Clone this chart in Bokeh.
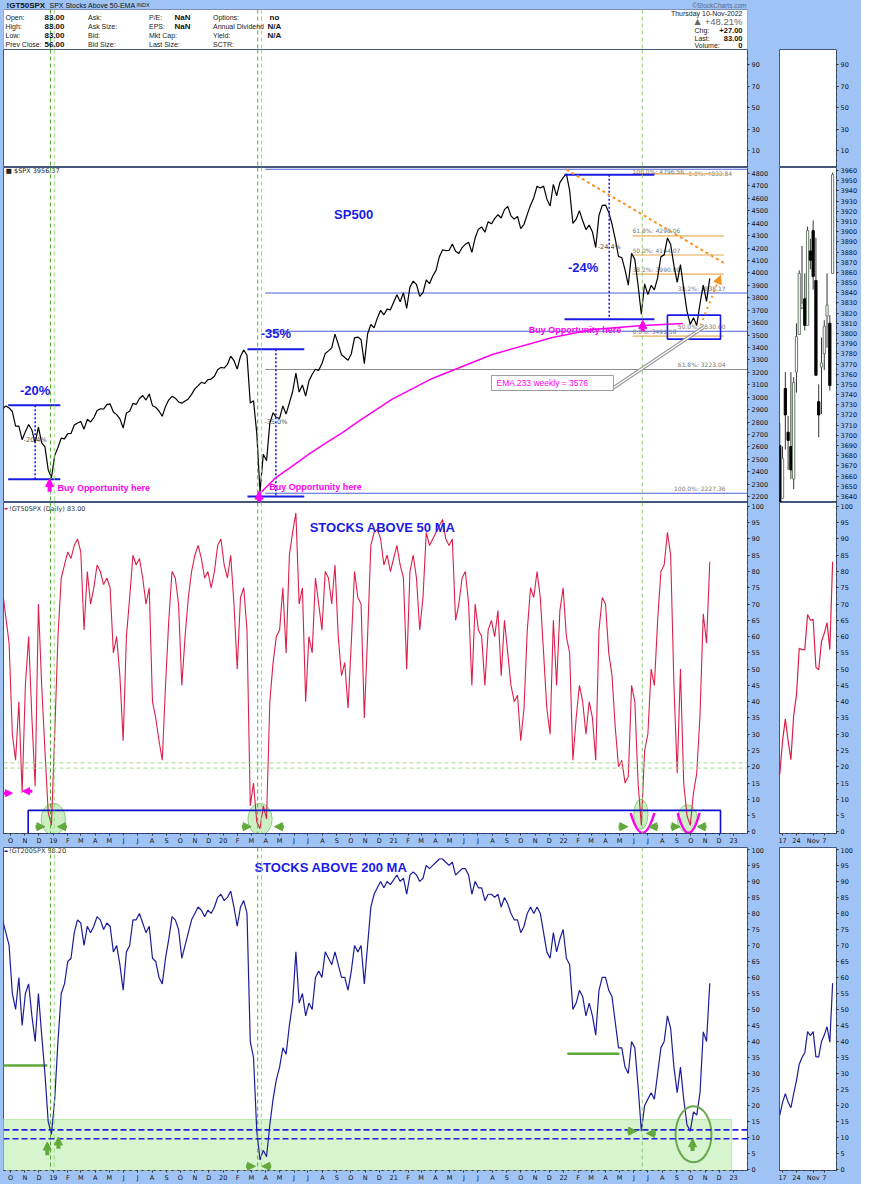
import pandas as pd
from bokeh.plotting import figure
from bokeh.layouts import column, row
from bokeh.models import Range1d, FixedTicker, Span, Arrow, NormalHead, ColumnDataSource
from bokeh.core.properties import value
from bokeh.embed import file_html
from bokeh.resources import INLINE

# ------------------------------------------------------------------ data
week_starts = ["2018-09-14", "2019-01-04", "2020-01-03", "2021-01-08", "2022-01-07"]

spx_2018 = [2905, 2930, 2914, 2885, 2767, 2768, 2658, 2723, 2781, 2736, 2633, 2760, 2633, 2600, 2417, 2351]
spx_2019 = [2532, 2596, 2671, 2665, 2707, 2708, 2776, 2793, 2804, 2743, 2822, 2801, 2834, 2893, 2907, 2905,
            2940, 2946, 2881, 2860, 2826, 2752, 2873, 2887, 2950, 2942, 2990, 3014, 2977, 3026, 2932, 2919,
            2889, 2847, 2926, 2979, 3007, 2992, 2962, 2952, 2970, 2986, 3023, 3067, 3093, 3120, 3110, 3141,
            3146, 3169, 3221, 3240]
spx_2020 = [3235, 3265, 3330, 3295, 3226, 3328, 3380, 3338, 2954, 2972, 2711, 2237, 2541, 2489, 2790, 2875,
            2837, 2830, 2930, 2864, 2955, 3044, 3194, 3041, 3098, 3009, 3130, 3185, 3225, 3216, 3271, 3351,
            3373, 3397, 3508, 3427, 3341, 3319, 3298, 3348, 3477, 3484, 3465, 3270, 3509, 3585, 3558, 3638,
            3699, 3663, 3709, 3703]
spx_2021 = [3825, 3768, 3841, 3714, 3887, 3934, 3907, 3811, 3842, 3943, 3913, 3975, 4020, 4129, 4185, 4180,
            4181, 4233, 4174, 4156, 4204, 4230, 4247, 4166, 4281, 4352, 4370, 4327, 4412, 4395, 4437, 4468,
            4442, 4509, 4535, 4459, 4433, 4455, 4357, 4391, 4471, 4545, 4605, 4697, 4683, 4698, 4595, 4538,
            4712, 4620, 4726, 4766]
spx_2022 = [4796, 4663, 4398, 4432, 4501, 4419, 4349, 4385, 4329, 4204, 4463, 4543, 4546, 4488, 4393, 4272,
            4132, 4123, 4024, 3901, 4158, 4109, 3901, 3667, 3912, 3825, 3899, 3863, 3962, 4130, 4145, 4280,
            4228, 4058, 3924, 4067, 3873, 3693, 3586, 3640, 3577, 3753, 3901, 3771, 3956]

gt50_2018 = [74, 66, 58, 30, 22, 40, 12, 45, 60, 35, 14, 70, 45, 25, 6, 2]
gt50_2019 = [30, 60, 78, 82, 86, 84, 88, 90, 86, 62, 80, 70, 75, 82, 80, 76, 78, 75, 55, 60,
             48, 28, 60, 72, 85, 82, 84, 78, 70, 75, 40, 35, 28, 22, 45, 65, 80, 78, 70, 45,
             60, 72, 80, 85, 88, 84, 78, 80, 75, 80, 88, 90]
gt50_2020 = [82, 78, 85, 70, 50, 72, 75, 62, 8, 15, 3, 1, 8, 4, 40, 52, 60, 62, 75, 55,
             85, 92, 98, 70, 75, 40, 60, 55, 78, 70, 62, 80, 78, 70, 82, 60, 48, 52, 38, 58,
             80, 72, 70, 35, 60, 88, 92, 93, 90, 82, 85, 80]
gt50_2021 = [88, 82, 78, 50, 80, 85, 78, 62, 72, 92, 88, 90, 92, 94, 96, 90, 88, 90, 65, 70,
             78, 80, 70, 45, 70, 62, 60, 45, 62, 65, 60, 68, 48, 65, 55, 45, 40, 42, 28, 38,
             62, 75, 72, 80, 72, 55, 38, 30, 65, 45, 68, 75]
gt50_2022 = [60, 55, 22, 35, 45, 40, 30, 40, 35, 22, 62, 72, 70, 55, 48, 32, 20, 22, 15, 17,
             45, 40, 15, 2, 25, 30, 50, 45, 65, 80, 82, 92, 85, 45, 18, 50, 15, 5, 2, 12,
             18, 36, 67, 58, 83]

gt200_2018 = [78, 74, 70, 55, 50, 60, 45, 55, 58, 48, 40, 55, 42, 30, 15, 11]
gt200_2019 = [22, 40, 55, 58, 65, 66, 74, 78, 77, 70, 76, 74, 76, 79, 78, 75, 77, 76, 68, 70,
              64, 56, 68, 70, 78, 78, 80, 77, 74, 76, 66, 65, 60, 58, 66, 72, 79, 78, 75, 66,
              70, 74, 78, 80, 82, 81, 79, 81, 80, 82, 85, 86]
gt200_2020 = [84, 85, 87, 82, 76, 82, 84, 80, 40, 35, 12, 3, 6, 4, 14, 22, 28, 32, 38, 36,
              45, 52, 68, 52, 55, 48, 52, 50, 60, 62, 60, 68, 66, 64, 68, 64, 60, 60, 56, 62,
              70, 68, 70, 58, 70, 82, 86, 88, 90, 88, 90, 89]
gt200_2021 = [92, 90, 91, 86, 92, 93, 92, 90, 91, 95, 94, 95, 96, 97, 97, 96, 95, 96, 92, 93,
              94, 94, 92, 86, 90, 88, 88, 84, 86, 86, 85, 86, 82, 85, 83, 80, 78, 78, 74, 76,
              80, 82, 80, 82, 80, 74, 68, 66, 74, 68, 72, 75]
gt200_2022 = [66, 64, 50, 52, 56, 54, 48, 52, 48, 42, 56, 60, 60, 56, 54, 46, 38, 38, 32, 30,
              40, 38, 26, 12, 20, 22, 24, 22, 30, 38, 40, 48, 44, 32, 24, 32, 22, 14, 12, 18,
              17, 24, 43, 40, 58.2]

small_days = ["2022-10-14", "2022-10-17", "2022-10-18", "2022-10-19", "2022-10-20", "2022-10-21",
              "2022-10-24", "2022-10-25", "2022-10-26", "2022-10-27", "2022-10-28", "2022-10-31",
              "2022-11-01", "2022-11-02", "2022-11-03", "2022-11-04", "2022-11-07", "2022-11-08",
              "2022-11-09", "2022-11-10"]
small_open = [3690, 3638, 3746, 3703, 3689, 3657, 3762, 3799, 3825, 3834, 3808, 3881, 3901, 3852, 3733,
              3767, 3780, 3817, 3810, 3859]
small_high = [3712, 3689, 3762, 3719, 3762, 3757, 3810, 3862, 3886, 3859, 3905, 3893, 3911, 3894, 3750,
              3796, 3813, 3859, 3818, 3958]
small_low = [3584, 3638, 3686, 3666, 3657, 3647, 3742, 3799, 3824, 3803, 3808, 3863, 3843, 3759, 3698,
             3721, 3764, 3786, 3744, 3859]
small_close = [3583, 3677, 3720, 3695, 3666, 3752, 3797, 3859, 3830, 3808, 3901, 3872, 3856, 3759, 3720,
               3771, 3807, 3828, 3749, 3956]
small_gt50 = [17.7, 28, 34.7, 28, 22.2, 35.8, 42, 56.4, 56, 56, 66.8, 65, 65.3, 50.6, 49.8, 58.5, 61,
              64.3, 56, 83]
small_gt200 = [17, 21, 23.7, 21, 19.3, 23.7, 27.8, 32.9, 35, 36.5, 43.1, 41.8, 43.1, 35.2, 35.2, 40, 42,
               44.6, 39.8, 58.2]
small_tick_labels = {"2022-10-17": "17", "2022-10-24": "24", "2022-11-01": "Nov", "2022-11-07": "7"}

fib_big_levels = [4833.84, 3838.17, 3530.60, 3223.04, 2227.36]
fib_big_labels = ["0.0%: 4833.84", "38.2%: 3838.17", "50.0%: 3530.60", "61.8%: 3223.04", "100.0%: 2227.36"]
fib_small_levels = [4796.56, 4298.06, 4144.07, 3990.08, 3491.58]
fib_small_labels = ["100.0%: 4796.56", "61.8%: 4298.06", "50.0%: 4144.07", "38.2%: 3990.08", "0.0%: 3491.58"]

ema_dates = ["2020-03-18", "2020-04-23", "2020-05-29", "2020-07-03", "2020-08-08", "2020-09-13",
             "2020-10-19", "2020-12-29", "2021-03-25", "2021-08-01", "2021-12-08", "2022-03-04",
             "2022-06-20", "2022-09-14"]
ema_values = [2220, 2354, 2448, 2542, 2630, 2716, 2810, 2984, 3151, 3344, 3481, 3545, 3577, 3593]

signal_dates = ["2018-12-26", "2019-01-03", "2020-03-15", "2020-03-23", "2022-06-19"]

# ------------------------------------------------------------------ helpers
ORIGIN = pd.Timestamp("2019-01-01")


def day(d):
    return int((pd.Timestamp(d) - ORIGIN).days)


def series(parts):
    xs, ys = [], []
    for start, vals in zip(week_starts, parts):
        ds = pd.date_range(start, periods=len(vals), freq="7D")
        xs += [int((d - ORIGIN).days) for d in ds]
        ys += list(vals)
    return xs, ys


BG = "#9fc3f5"
OUT = "#44577d"
XL, XR = -107, 1491
MW, SW = 777, 84
FW = 744
HH = 49
FONT = "Liberation Sans"
AXF = "DejaVu Sans"
GREEN = "#62a83c"
MAG = "#ff00ee"
BLUE = "#1a1ae6"
ORANGE = "#f39222"
sig_colors = ["#4fae2c", "#9ad68a", "#4fae2c", "#9ad68a", "#8ccc70"]

months = pd.date_range("2018-10-01", "2023-01-01", freq="MS")
month_ticks = [day(m) for m in months]
month_labels = {day(m): (m.strftime("%y") if m.month == 1 else m.strftime("%b")[0]) for m in months}


def txt(p, x, y, t, size="7px", color="#222", align="left", baseline="middle", style="normal", font=FONT):
    p.text(x=[x], y=[y], text=[t], text_font=value(font), text_font_size=size, text_color=color,
           text_align=align, text_baseline=baseline, text_font_style=style)


def style_axis(ax, ticks, standoff):
    ax.ticker = FixedTicker(ticks=ticks)
    ax.major_label_text_font = AXF
    ax.major_label_text_font_size = "6.5px"
    ax.major_label_text_color = "#111"
    ax.axis_line_color = "#333"
    ax.axis_line_dash = "dotted"
    ax.major_tick_line_color = "#333"
    ax.major_tick_in = 0
    ax.major_tick_out = 2
    ax.minor_tick_line_color = None
    ax.major_label_standoff = standoff


def base(p):
    p.border_fill_color = BG
    p.background_fill_color = "white"
    p.outline_line_color = OUT
    p.outline_line_width = 1
    p.grid.visible = False


def mainfig(h, y0, y1, yticks, bottom=0):
    p = figure(width=MW, height=h, x_range=Range1d(XL, XR), y_range=Range1d(y0, y1),
               output_backend="svg", toolbar_location=None,
               x_axis_location=("below" if bottom else None), y_axis_location="right",
               min_border=0, min_border_left=3, min_border_right=30, min_border_top=0,
               min_border_bottom=bottom)
    base(p)
    style_axis(p.yaxis[0], yticks, 2)
    if bottom:
        style_axis(p.xaxis[0], month_ticks, 1)
        p.xaxis[0].major_label_overrides = month_labels
    for d, c in zip(signal_dates, sig_colors):
        p.add_layout(Span(location=day(d), dimension="height", line_color=c, line_dash="4 3",
                          line_width=1))
    return p


small_idx = list(range(len(small_days)))
small_ticks = [small_days.index(k) for k in small_tick_labels]
small_lab = {small_days.index(k): v for k, v in small_tick_labels.items()}


def smallfig(h, y0, y1, yticks, bottom=0):
    p = figure(width=SW, height=h, x_range=Range1d(-0.1, 20.4), y_range=Range1d(y0, y1),
               output_backend="svg", toolbar_location=None,
               x_axis_location=("below" if bottom else None), y_axis_location="right",
               min_border=0, min_border_left=2, min_border_right=25, min_border_top=0,
               min_border_bottom=bottom)
    base(p)
    style_axis(p.yaxis[0], yticks, 2)
    if bottom:
        style_axis(p.xaxis[0], small_ticks, 1)
        p.xaxis[0].major_label_overrides = small_lab
    return p


def arrows(p, x0, y0, x1, y1, color, width=4, size=8, dash="solid"):
    src = ColumnDataSource(dict(x0=x0, y0=y0, x1=x1, y1=y1))
    p.add_layout(Arrow(end=NormalHead(size=size, fill_color=color, line_color=color),
                       x_start="x0", y_start="y0", x_end="x1", y_end="y1", source=src,
                       line_color=color, line_width=width, line_dash=dash))


def hx(d):
    return (day(d) - XL) * FW / (XR - XL)


# ------------------------------------------------------------------ header
hdr = figure(width=MW, height=HH, x_range=Range1d(0, FW), y_range=Range1d(HH, 0),
             output_backend="svg", toolbar_location=None, x_axis_location=None, y_axis_location=None,
             min_border=0, min_border_left=3, min_border_right=30)
hdr.background_fill_color = BG
hdr.border_fill_color = BG
hdr.outline_line_color = None
hdr.grid.visible = False
hdr.quad(left=[0], right=[FW], top=[9], bottom=[HH], fill_color="white", line_color="#7d8fb3")
hdr.segment(x0=[hx(d) for d in signal_dates], y0=[9] * 5, x1=[hx(d) for d in signal_dates],
            y1=[HH] * 5, line_color=sig_colors, line_dash="4 3", line_width=1)
txt(hdr, 3, 4.5, "!GT50SPX", size="8px", color="#111", style="bold")
txt(hdr, 46, 4.5, "SPX Stocks Above 50-EMA", size="7px", color="#111")
txt(hdr, 133, 4.8, "INDX", size="5.5px", color="#222")
txt(hdr, 743, 4.5, "\u00a9StockCharts.com", size="6.5px", color="#5a6a88", align="right")

rows_y = [16.5, 25.5, 34.5, 43.5]
quote_cols_x = [2, 84.5, 145.5, 209.5]
quote_vals_x = [41, 0, 171, 264]
quote_labels = [["Open:", "High:", "Low:", "Prev Close:"],
                ["Ask:", "Ask Size:", "Bid:", "Bid Size:"],
                ["P/E:", "EPS:", "Mkt Cap:", "Last Size:"],
                ["Options:", "Annual Dividend", "Yield:", "SCTR:"]]
quote_values = [["83.00", "83.00", "83.00", "56.00"],
                ["", "", "", ""],
                ["NaN", "NaN", "", ""],
                ["no", "N/A", "N/A", ""]]
for cx, vx, labs, vals in zip(quote_cols_x, quote_vals_x, quote_labels, quote_values):
    for yy, lab, vv in zip(rows_y, labs, vals):
        txt(hdr, cx, yy, lab, size="7px", color="#222")
        if vv:
            txt(hdr, vx + (2 if vv == "no" else 0), yy, vv, size="8px", color="#111", style="bold")

right_y = [13.2, 21.4, 29.6, 37.6, 45.4]
txt(hdr, 739, right_y[0], "Thursday 10-Nov-2022", size="7px", color="#222", align="right")
txt(hdr, 739, right_y[1], "+48.21%", size="9.5px", color="#666", align="right")
txt(hdr, 691, right_y[1], "\u25b2", size="8px", color="#666", font="DejaVu Sans")
for yy, lab, vv in zip(right_y[2:], ["Chg:", "Last:", "Volume:"], ["+27.00", "83.00", "0"]):
    txt(hdr, 691, yy, lab, size="7px", color="#222")
    txt(hdr, 739, yy, vv, size="7.5px", color="#111", align="right", style="bold")

hdr2 = figure(width=SW, height=HH, x_range=Range1d(0, 1), y_range=Range1d(0, 1),
              output_backend="svg", toolbar_location=None, x_axis_location=None, y_axis_location=None,
              min_border=0)
hdr2.background_fill_color = BG
hdr2.border_fill_color = BG
hdr2.outline_line_color = None
hdr2.grid.visible = False
hdr2.scatter(x=[0.5], y=[0.5], size=0, alpha=0)

# ------------------------------------------------------------------ empty panel
e1 = mainfig(118, -5.8, 104, [10, 30, 50, 70, 90])
e1.scatter(x=[0], y=[50], size=0, alpha=0)
e2 = smallfig(118, -5.8, 104, [10, 30, 50, 70, 90])
e2.scatter(x=[0], y=[50], size=0, alpha=0)

# ------------------------------------------------------------------ SPX panel
s1 = mainfig(335, 2153, 4848, list(range(2200, 4801, 100)))
# big fibonacci retracement (2020 low -> 2022 high)
for lev, lab in zip(fib_big_levels, fib_big_labels):
    col = "#8a8a8a" if lab.startswith("61.8") else "#4d5fd6"
    s1.segment(x0=[455], y0=[lev], x1=[XR], y1=[lev], line_color=col, line_width=1)
    top = lev > 4800
    txt(s1, 1458 if top else 1444, lev - 8 if top else lev + 12, lab, size="6px", color="#777",
        align="right", baseline="top" if top else "bottom", font=AXF)
# small fibonacci retracement (2022)
for lev, lab in zip(fib_small_levels, fib_small_labels):
    s1.segment(x0=[1244], y0=[lev], x1=[1440], y1=[lev], line_color="#f1c489", line_width=1.6)
    top = lev > 4700
    txt(s1, 1244, lev + 20 if top else lev + 12, lab, size="6px", color="#777", align="left",
        baseline="middle" if top else "bottom", font=AXF)

spx_x, spx_y = series([spx_2018, spx_2019, spx_2020, spx_2021, spx_2022])
s1.line(spx_x, spx_y, line_color="black", line_width=1.2)

# drawdown brackets
for (xa, xb, xm, top, bot, big, small, ybig, ysmall) in [
        (-97, 15, -39, 2936, 2341, "-20%", "-20.4%", 3050, 2652),
        (417, 539, 478, 3386, 2201, "-35%", "-35.0%", 3510, 2797),
        (1098, 1291, 1194, 4790, 3628, "-24%", "-24.4%", 4044, 4205)]:
    s1.segment(x0=[xa, xa], y0=[top, bot], x1=[xb, xb], y1=[top, bot], line_color=BLUE, line_width=2)
    s1.segment(x0=[xm], y0=[top], x1=[xm], y1=[bot], line_color=BLUE, line_width=1.6, line_dash="2 2")
    txt(s1, xm - (56 if big == "-24%" else 0), ybig, big, size="13px", color=BLUE, align="center",
        style="bold")
    txt(s1, xm, ysmall, small, size="6.5px", color="#555", align="center", font=AXF)

# EMA 233 weekly curve
s1.line([day(d) for d in ema_dates], ema_values, line_color=MAG, line_width=1.5)
# downtrend and projection
s1.line([1102, 1442], [4832, 4076], line_color=ORANGE, line_width=2, line_dash="3 3")
arrows(s1, [1390], [3577], [1433], [3979], ORANGE, width=2, size=8, dash="dotted")
# box around October low
s1.quad(left=[1319], right=[1433], bottom=[3467], top=[3660], fill_color=None, line_color=BLUE,
        line_width=1.6)
# callout for EMA label
s1.line([1201, 1399], [3070, 3569], line_color="#9a9a9a", line_width=3.5)
s1.line([1201, 1399], [3070, 3569], line_color="white", line_width=1.2)
s1.quad(left=[941], right=[1203], bottom=[3054], top=[3175], fill_color="white", line_color="#9a9a9a",
        line_width=1)
txt(s1, 952, 3114, "EMA 233  weekly = 3576", size="8.5px", color=MAG)
# buy arrows and texts
arrows(s1, [-8, 442, 1266], [2240, 2160, 3530], [-8, 442, 1266], [2345, 2245, 3618], MAG, width=4,
       size=8)
txt(s1, 9, 2266, "Buy Opportunity here", size="9px", color=MAG, style="bold")
txt(s1, 464, 2274, "Buy Opportunity here", size="9px", color=MAG, style="bold")
txt(s1, 1021, 3541, "Buy Opportunity here", size="9px", color=MAG, style="bold")
txt(s1, 645, 4470, "SP500", size="13px", color=BLUE, align="center", style="bold")
txt(s1, -102, 4822, "\u25a0 $SPX 3956.37", size="6.5px", color="#222", font=AXF)

s2 = smallfig(335, 3634, 3963, list(range(3640, 3961, 10)))
up = [c >= o for o, c in zip(small_open, small_close)]
s2.segment(x0=small_idx, y0=small_low, x1=small_idx, y1=small_high, line_color="#333", line_width=1)
s2.vbar(x=small_idx, width=0.8, bottom=[min(o, c) for o, c in zip(small_open, small_close)],
        top=[max(o, c) for o, c in zip(small_open, small_close)],
        fill_color=["white" if u else "black" for u in up],
        line_color=["#6b7d6b" if u else "black" for u in up], line_width=1)

# ------------------------------------------------------------------ % above 50 EMA
f1 = mainfig(345, -0.5, 101.2, list(range(0, 101, 5)), bottom=14)
f1.add_layout(Span(location=21.2, dimension="width", line_color="#a6d494", line_dash="4 3", line_width=1))
f1.add_layout(Span(location=19.6, dimension="width", line_color="#a6d494", line_dash="4 3", line_width=1))
f1.ellipse(x=[0, 444, 1262, 1362], y=[3.9, 3.9, 5.4, 4.0], width=[52, 52, 30, 43],
           height=[9.8, 9.8, 9.2, 8.6], fill_color="#8ddc7c", fill_alpha=0.45, line_color="#8fd080")
g50_x, g50_y = series([gt50_2018, gt50_2019, gt50_2020, gt50_2021, gt50_2022])
f1.line(g50_x, g50_y, line_color="#dc1f4a", line_width=1.1)
f1.quad(left=[-54], right=[1433], bottom=[-0.7], top=[6.6], fill_color=None, line_color="#1010cc",
        line_width=1.6)
f1.quadratic(x0=[1240, 1341], y0=[5.8, 5.8], x1=[1291, 1388], y1=[5.8, 5.8], cx=[1265.5, 1364.5],
             cy=[-6.4, -6.4], line_color=MAG, line_width=2.5)
arrows(f1, [-38, 29, 405, 495, 1214, 1299, 1326, 1403], [1.6] * 8,
       [-18, 9, 425, 475, 1234, 1279, 1346, 1383], [1.6] * 8, GREEN, width=4, size=8)
arrows(f1, [-107, -45], [11.9, 12.5], [-88, -66], [11.9, 12.5], MAG, width=3, size=7)
f1.segment(x0=[-105], y0=[99.3], x1=[-98], y1=[99.3], line_color="#dc1f4a", line_width=1.5)
txt(f1, -95, 99.3, "!GT50SPX (Daily) 83.00", size="6.5px", color="#333", font=AXF)
txt(f1, 711, 93.6, "STOCKS ABOVE 50  MA", size="13px", color=BLUE, align="center", style="bold")

f2 = smallfig(345, -0.5, 101.2, list(range(0, 101, 5)), bottom=14)
f2.line(small_idx, small_gt50, line_color="#dc1f4a", line_width=1.2)

# ------------------------------------------------------------------ % above 200 EMA
t1 = mainfig(337, -0.3, 100.6, list(range(0, 101, 5)), bottom=13)
t1.quad(left=[XL - 20], right=[1457], bottom=[-2], top=[15.6], fill_color="#d6f5cf",
        line_color="#b9e6ad", line_width=1)
t1.add_layout(Span(location=12.4, dimension="width", line_color="#2121e0", line_dash="6 3", line_width=1.6))
t1.add_layout(Span(location=9.6, dimension="width", line_color="#2121e0", line_dash="6 3", line_width=1.6))
t1.segment(x0=[XL - 20, 1104], y0=[32.5, 36.2], x1=[-13, 1216], y1=[32.5, 36.2], line_color="#5fa83a",
           line_width=2.5)
g200_x, g200_y = series([gt200_2018, gt200_2019, gt200_2020, gt200_2021, gt200_2022])
t1.line(g200_x, g200_y, line_color="#1c1c99", line_width=1.2)
t1.ellipse(x=[1375], y=[11], width=[77], height=[17.5], fill_color=None, line_color="#6aa84f",
           line_width=2)
arrows(t1, [-13, 11, 1373], [4.5, 6.5, 5.8], [-13, 11, 1373], [8.6, 10.2, 9.6], GREEN, width=4, size=8)
arrows(t1, [414, 468, 1233, 1294], [1.0, 1.0, 12.0, 11.3], [434, 448, 1253, 1274], [1.0, 1.0, 12.0, 11.3],
       GREEN, width=4, size=8)
t1.segment(x0=[-105], y0=[99.4], x1=[-98], y1=[99.4], line_color="#1c1c99", line_width=1.5)
txt(t1, -95, 99.4, "!GT200SPX 58.20", size="6.5px", color="#333", font=AXF)
txt(t1, 600, 94.5, "STOCKS ABOVE 200  MA", size="13px", color=BLUE, align="center", style="bold")

t2 = smallfig(337, -0.3, 100.6, list(range(0, 101, 5)), bottom=13)
t2.line(small_idx, small_gt200, line_color="#1c1c99", line_width=1.2)

layout = column(row(hdr, hdr2), row(e1, e2), row(s1, s2), row(f1, f2), row(t1, t2))
layout.styles = {"background-color": BG}
open("out.html", "w").write(file_html(layout, INLINE))
